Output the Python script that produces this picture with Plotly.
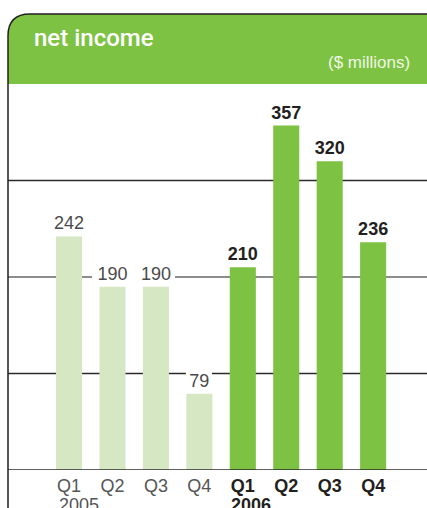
import plotly.graph_objects as go

# ---- data ----
cats_2005 = ["Q1 2005", "Q2 2005", "Q3 2005", "Q4 2005"]
cats_2006 = ["Q1 2006", "Q2 2006", "Q3 2006", "Q4 2006"]
income_2005 = [242, 190, 190, 79]
income_2006 = [210, 357, 320, 236]
quarters = ["Q1", "Q2", "Q3", "Q4"]
years = ["2005", "2006"]
grid_vals = [100, 200, 300]

W, H = 427, 508
L, R, T, B = 8, 0, 84, 38
PW, PH = W - L - R, H - T - B

def px(x):  # pixel x -> paper
    return (x - L) / PW

def py(y):  # pixel y -> paper
    return (H - B - y) / PH

LIGHT = "#d5e8c3"
GREEN = "#7dc242"
FONT = "Liberation Sans, Arial, sans-serif"

fig = go.Figure()
fig.add_trace(go.Bar(
    x=cats_2005, y=income_2005, marker=dict(color=LIGHT, line=dict(width=0)),
    text=[str(v) for v in income_2005], textposition="outside", constraintext="none",
    textfont=dict(family=FONT, size=18, color="#4a4a4a"),
    cliponaxis=False, hoverinfo="skip"))
fig.add_trace(go.Bar(
    x=cats_2006, y=income_2006, marker=dict(color=GREEN, line=dict(width=0)),
    text=[str(v) for v in income_2006], textposition="outside", constraintext="none",
    textfont=dict(family=FONT, size=18, color="#231f20", weight="bold"),
    cliponaxis=False, hoverinfo="skip"))

all_cats = cats_2005 + cats_2006
ticktext = ([f"<span style='color:#555555'>{q}</span>" for q in quarters] +
            [f"<b>{q}</b>" for q in quarters])

shapes = []
for v in grid_vals:
    col = "#8c8c8c" if v == 200 else "#2a2a2a"
    wid = 2 if v == 200 else 1.3
    shapes.append(dict(type="line", xref="paper", yref="y", x0=0, x1=1, y0=v, y1=v,
                       line=dict(color=col, width=wid), layer="below"))
shapes.append(dict(type="rect", xref="x", yref="y", x0=0.53, x1=2.44, y0=195, y1=205,
                   fillcolor="white", line=dict(width=0), layer="below"))
shapes.append(dict(type="rect", xref="x", yref="y", x0=2.69, x1=3.29, y0=95, y1=105,
                   fillcolor="white", line=dict(width=0), layer="below"))
shapes.append(dict(type="line", xref="paper", yref="y", x0=0, x1=1, y0=0, y1=0,
                   line=dict(color="#2a2a2a", width=1.3), layer="above"))
r = 22
x0, x1 = px(8), px(440)
yt, yb = py(14), py(84)
rx, ry = r / PW, r / PH
path = (f"M {x0},{yb} L {x0},{yt - ry} Q {x0},{yt} {x0 + rx},{yt} "
        f"L {x1},{yt} L {x1},{yb} Z")
shapes.append(dict(type="path", xref="paper", yref="paper", path=path,
                   fillcolor=GREEN, line=dict(width=0), layer="above"))
path2 = (f"M {x0},{py(520)} L {x0},{yt - ry} Q {x0},{yt} {x0 + rx},{yt} L {x1},{yt}")
shapes.append(dict(type="path", xref="paper", yref="paper", path=path2,
                   line=dict(color="#231f20", width=1.5), layer="above"))

annotations = [
    dict(text="net income", xref="paper", yref="paper", x=px(32), y=py(38),
         xanchor="left", yanchor="middle", showarrow=False,
         font=dict(family="Roboto, Liberation Sans, sans-serif", size=24, color="white", weight=500)),
    dict(text="($ millions)", xref="paper", yref="paper", x=px(412), y=py(62),
         xanchor="right", yanchor="middle", showarrow=False,
         font=dict(family=FONT, size=17, color="#eef7e4")),
    dict(text=years[0], xref="paper", yref="paper", x=px(57), y=py(505),
         xanchor="left", yanchor="middle", showarrow=False,
         font=dict(family=FONT, size=18, color="#555555")),
    dict(text=f"<b>{years[1]}</b>", xref="paper", yref="paper", x=px(229), y=py(505),
         xanchor="left", yanchor="middle", showarrow=False,
         font=dict(family=FONT, size=18, color="#231f20")),
]

fig.update_layout(
    width=W, height=H, margin=dict(l=L, r=R, t=T, b=B, pad=0),
    paper_bgcolor="white", plot_bgcolor="white",
    barmode="overlay", bargap=0.4, showlegend=False,
    xaxis=dict(type="category", categoryorder="array", categoryarray=all_cats,
               tickvals=all_cats, ticktext=ticktext, range=[-1.405, 8.24],
               showgrid=False, zeroline=False, showline=False, ticks="",
               ticklabelstandoff=3,
               tickfont=dict(family=FONT, size=18, color="#231f20"),
               fixedrange=True),
    yaxis=dict(range=[0, 400], showgrid=False, zeroline=False, showline=False,
               showticklabels=False, ticks="", fixedrange=True),
    shapes=shapes, annotations=annotations,
)

fig.write_html("out.html", config={"displayModeBar": False},
               post_script="document.body.style.margin='0';document.body.style.overflow='hidden';")
